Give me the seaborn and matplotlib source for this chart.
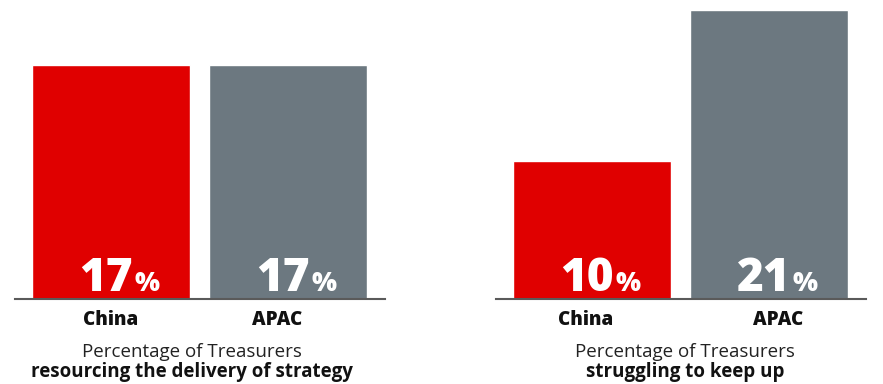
import matplotlib
matplotlib.use("Agg")
import matplotlib.pyplot as plt
import matplotlib.transforms as mtransforms
import seaborn as sns
import pandas as pd

categories = ["China", "APAC"]
resourcing_values = [17, 17]
struggling_values = [10, 21]
caption_top = "Percentage of Treasurers"
caption_left = "resourcing the delivery of strategy"
caption_right = "struggling to keep up"

RED = "#E00000"
GRAY = "#6C7880"
AXIS = "#5A5A5A"

sns.set_theme(style="white")
plt.rcParams["font.family"] = ["Open Sans", "DejaVu Sans"]

fig = plt.figure(figsize=(8.83, 3.84), dpi=100)
ax_l = fig.add_axes([15/883, 85/384, 370/883, 289/384])
ax_r = fig.add_axes([496/883, 85/384, 370/883, 289/384])

# horizontal nudges (in pixels) of the category labels, as laid out in the original
label_nudges = {ax_l: [0, -10], ax_r: [-6, 10]}

panels = [(ax_l, resourcing_values, caption_left, 192/883),
          (ax_r, struggling_values, caption_right, 685/883)]

for ax, vals, cap, cx in panels:
    df = pd.DataFrame({"cat": categories, "val": vals})
    sns.barplot(data=df, x="cat", y="val", hue="cat", palette=[RED, GRAY],
                width=0.895, dodge=False, legend=False, ax=ax, saturation=1)
    ax.set_ylim(0, 21)
    ax.set_xlim(-0.544, 1.552)
    ax.set_xlabel("")
    ax.set_ylabel("")
    ax.set_yticks([])
    for s in ["top", "left", "right"]:
        ax.spines[s].set_visible(False)
    ax.spines["bottom"].set_color(AXIS)
    ax.spines["bottom"].set_linewidth(1.5)
    ax.tick_params(axis="x", length=0, pad=8)
    for lab, dx in zip(ax.get_xticklabels(), label_nudges[ax]):
        lab.set_fontweight(800)
        lab.set_fontsize(13.5)
        lab.set_color("#111111")
        lab.set_transform(lab.get_transform() +
                          mtransforms.ScaledTranslation(dx / 100, 0, fig.dpi_scale_trans))
    for i, v in enumerate(vals):
        ax.text(i + 0.125, 0.55, f"{v}", ha="right", va="baseline",
                color="white", fontsize=33, fontweight=800)
        ax.text(i + 0.135, 0.55, "%", ha="left", va="baseline",
                color="white", fontsize=19, fontweight=800)
    fig.text(cx, 1 - 357/384, caption_top, ha="center", va="baseline",
             fontsize=13.5, color="#222222")
    fig.text(cx, 1 - 377/384, cap, ha="center", va="baseline",
             fontsize=13.5, fontweight="bold", color="#111111")

fig.savefig("out.png", dpi=100)
